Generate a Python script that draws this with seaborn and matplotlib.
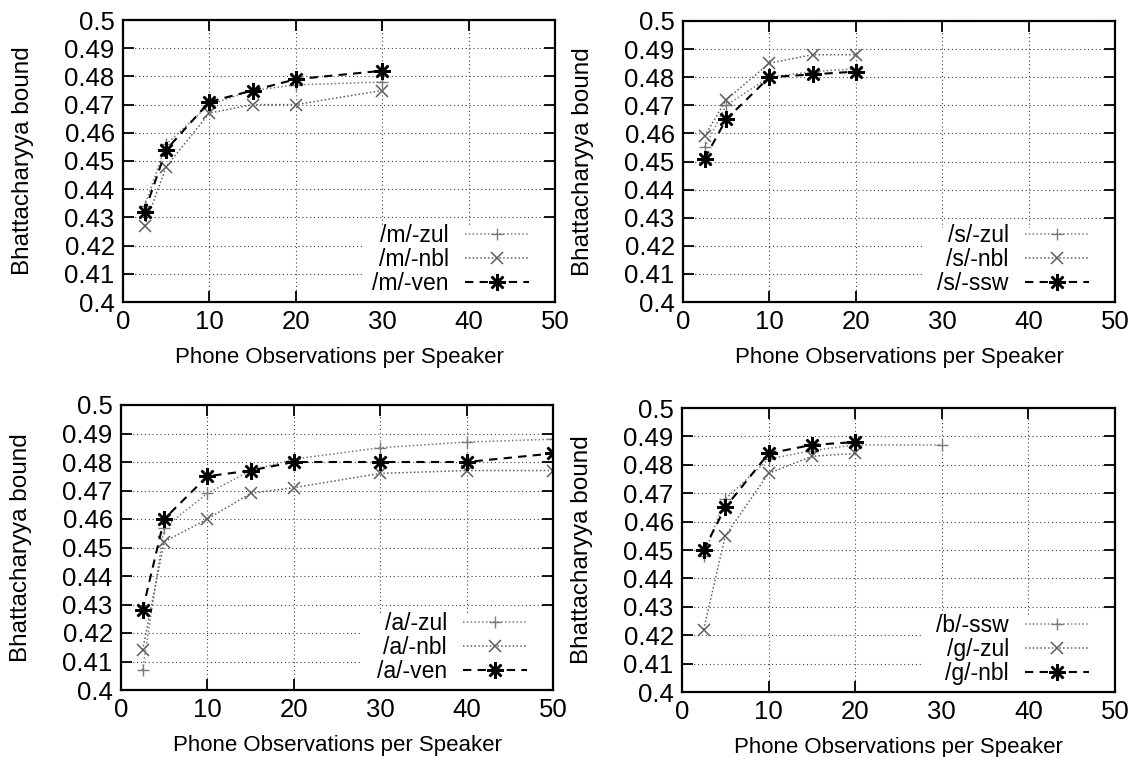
import matplotlib
matplotlib.use("Agg")
import matplotlib.pyplot as plt
from matplotlib.patches import Rectangle
import seaborn as sns
import pandas as pd

sns.set_theme(style="white")
plt.rcParams['font.family'] = ['Liberation Sans', 'DejaVu Sans']
plt.rcParams['text.color'] = 'black'

# ---------------- data ----------------
x_m = [2.5, 5, 10, 15, 20, 30]
m_zul = [0.434, 0.456, 0.470, 0.475, 0.477, 0.478]
m_nbl = [0.427, 0.448, 0.467, 0.470, 0.470, 0.475]
m_ven = [0.432, 0.454, 0.471, 0.475, 0.479, 0.482]

x_s = [2.5, 5, 10, 15, 20]
s_zul = [0.455, 0.470, 0.480, 0.482, 0.483]
s_nbl = [0.459, 0.472, 0.485, 0.488, 0.488]
s_ssw = [0.451, 0.465, 0.480, 0.481, 0.482]

x_a = [2.5, 5, 10, 15, 20, 30, 40, 50]
a_zul = [0.407, 0.457, 0.469, 0.477, 0.481, 0.485, 0.487, 0.488]
a_nbl = [0.414, 0.452, 0.460, 0.469, 0.471, 0.476, 0.477, 0.477]
a_ven = [0.428, 0.460, 0.475, 0.477, 0.480, 0.480, 0.480, 0.483]

x_b = [2.5, 5, 10, 15, 20, 30]
b_ssw = [0.448, 0.468, 0.482, 0.485, 0.487, 0.487]
x_g = [2.5, 5, 10, 15, 20]
g_zul = [0.422, 0.455, 0.477, 0.483, 0.484]
g_nbl = [0.450, 0.465, 0.484, 0.487, 0.488]

x_ticks = [0, 10, 20, 30, 40, 50]
y_ticks = [0.4, 0.41, 0.42, 0.43, 0.44, 0.45, 0.46, 0.47, 0.48, 0.49, 0.5]
y_ticklabels = ["0.4", "0.41", "0.42", "0.43", "0.44", "0.45", "0.46", "0.47", "0.48", "0.49", "0.5"]
xlabel = "Phone Observations per Speaker"
ylabel = "Bhattacharyya bound"

panels = [
    [(x_m, m_zul, "/m/-zul"), (x_m, m_nbl, "/m/-nbl"), (x_m, m_ven, "/m/-ven")],
    [(x_s, s_zul, "/s/-zul"), (x_s, s_nbl, "/s/-nbl"), (x_s, s_ssw, "/s/-ssw")],
    [(x_a, a_zul, "/a/-zul"), (x_a, a_nbl, "/a/-nbl"), (x_a, a_ven, "/a/-ven")],
    [(x_b, b_ssw, "/b/-ssw"), (x_g, g_zul, "/g/-zul"), (x_g, g_nbl, "/g/-nbl")],
]

# ---------------- styles ----------------
styles = [
    dict(color="#7a7a7a", linestyle=(0, (1, 1.5)), linewidth=1.1, marker="+",
         markersize=8, markeredgewidth=1.0, markeredgecolor="#7a7a7a"),
    dict(color="#5e5e5e", linestyle=(0, (1, 1.5)), linewidth=1.1, marker="x",
         markersize=8, markeredgewidth=1.1, markeredgecolor="#5e5e5e"),
    dict(color="#000000", linestyle=(0, (4, 3)), linewidth=1.5, marker=(8, 2, 0),
         markersize=12, markeredgewidth=1.8, markeredgecolor="#000000"),
]

W, H = 1133, 757
fig = plt.figure(figsize=(W / 100, H / 100), dpi=100)
# pixel boxes: left, right, top, bottom
boxes = [(123, 555, 20, 302), (683, 1115, 21, 302),
         (121, 553, 405, 690), (682, 1115, 408, 692)]

for i, (box, series) in enumerate(zip(boxes, panels)):
    l, r, t, b = box
    ax = fig.add_axes([l / W, 1 - b / H, (r - l) / W, (b - t) / H])
    for (xs, ys, lab), st in zip(series, styles):
        df = pd.DataFrame({"x": xs, "y": ys})
        sns.lineplot(data=df, x="x", y="y", ax=ax, label=lab, zorder=3, **st)
    ax.set_xlim(0, 50)
    ax.set_ylim(0.4, 0.5)
    ax.set_xticks(x_ticks)
    ax.set_yticks(y_ticks)
    ax.set_yticklabels(y_ticklabels)
    ax.grid(True, color="#444444", linestyle=(0, (1, 2.5)), linewidth=0.8)
    ax.set_axisbelow(True)
    # blank area behind the key (grid hidden there)
    ax.add_patch(Rectangle((0.553, 0.0), 0.447, 0.265, transform=ax.transAxes,
                           facecolor="white", edgecolor="none", zorder=1))
    for sp in ax.spines.values():
        sp.set_color("black")
        sp.set_linewidth(1.6)
        sp.set_zorder(4)
    ax.tick_params(direction="in", length=8, width=1.3, top=True, right=True,
                   bottom=True, left=True, labelsize=18.5, colors="black", pad=6)
    ax.set_xlabel(xlabel, fontsize=16, color="black")
    ax.set_ylabel(ylabel, fontsize=17.5, color="black")
    ax.yaxis.set_label_coords(-0.205, 0.5)
    ax.xaxis.set_label_coords(0.5, -0.16 if i < 2 else -0.158)
    leg = ax.legend(loc="lower right", bbox_to_anchor=(0.94, 0.025),
                    markerfirst=False, frameon=False,
                    fontsize=16.5, handlelength=2.8, handletextpad=0.7,
                    labelspacing=0.05, borderpad=0.0, borderaxespad=0.0)
    for txt in leg.get_texts():
        txt.set_ha("right")
        txt.set_color("black")
    leg._legend_box.align = "right"

fig.savefig("out.png", dpi=100, facecolor="white")
